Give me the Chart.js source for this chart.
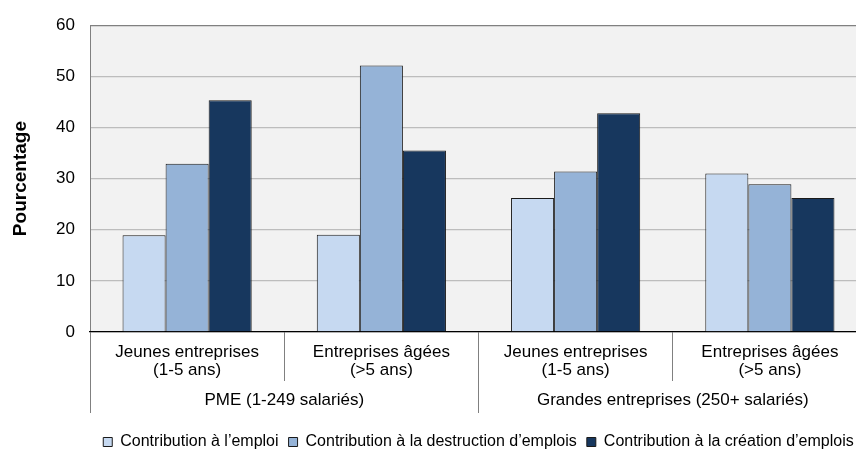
<!DOCTYPE html>
<html>
<head>
<meta charset="utf-8">
<script src="https://cdn.jsdelivr.net/npm/chart.js@4/dist/chart.umd.min.js"></script>
<style>
  html, body { margin: 0; padding: 0; background: #fff; overflow: hidden; }
  #wrap { width: 867px; height: 451px; }
</style>
</head>
<body>
<div id="wrap"><canvas id="myChart" width="867" height="451"></canvas></div>
<script>
// categories (two-line labels) and their groups
const categories = [
  ["Jeunes entreprises", "(1-5 ans)"],
  ["Entreprises âgées", "(>5 ans)"],
  ["Jeunes entreprises", "(1-5 ans)"],
  ["Entreprises âgées", "(>5 ans)"]
];
const groups = ["PME (1-249 salariés)", "Grandes entreprises (250+ salariés)"];

// series values (%)
const emploi = [18.9, 19.0, 26.2, 31.0];
const destruction = [32.9, 52.1, 31.4, 28.9];
const creation = [45.3, 35.5, 42.8, 26.2];

const seriesNames = [
  "Contribution à l’emploi",
  "Contribution à la destruction d’emplois",
  "Contribution à la création d’emplois"
];
const yTicks = [0, 10, 20, 30, 40, 50, 60];

const FONT = "'Liberation Sans', Arial, sans-serif";

// grey plot background
const plotBg = {
  id: "plotBg",
  beforeDraw(chart) {
    const { ctx, chartArea: a } = chart;
    ctx.save();
    ctx.fillStyle = "#ffffff";
    ctx.fillRect(0, 0, chart.width, chart.height);
    ctx.fillStyle = "#f2f2f2";
    ctx.fillRect(a.left, a.top, a.right - a.left, a.bottom - a.top);
    ctx.restore();
  }
};

const info = {
  labels: categories,
  datasets: [
    { label: seriesNames[0], data: emploi, backgroundColor: "#c6d9f1" },
    { label: seriesNames[1], data: destruction, backgroundColor: "#95b3d7" },
    { label: seriesNames[2], data: creation, backgroundColor: "#17375e" }
  ].map((d) => Object.assign(d, { borderColor: "#1a1a1a", borderWidth: 1, xAxisID: "x" }))
};

const options = {
  responsive: false,
  animation: false,
  devicePixelRatio: 1,
  categoryPercentage: 0.665,
  barPercentage: 1,
  layout: { padding: { top: 24, left: 0, right: 0, bottom: -9 } },
  scales: {
    y: {
      min: 0,
      max: 60,
      afterFit: (s) => { s.width = 90; },
      afterBuildTicks: (s) => { s.ticks = yTicks.map((v) => ({ value: v })); },
      ticks: { color: "#000", padding: 15, font: { family: FONT, size: 17 } },
      grid: {
        drawTicks: false,
        lineWidth: 1.3,
        color: (c) => (c.tick && c.tick.value === 60 ? "#808080" : "#bdbdbd")
      },
      border: { display: true, color: "#808080", width: 1 },
      title: {
        display: true,
        text: "Pourcentage",
        color: "#000",
        padding: { top: 9, bottom: 0 },
        font: { family: FONT, size: 19, weight: "bold" }
      }
    },
    x: {
      type: "category",
      position: "bottom",
      weight: 0,
      afterFit: (s) => { s.height = 49; },
      ticks: { color: "#000", padding: -38.4, maxRotation: 0, autoSkip: false, font: { family: FONT, size: 17, lineHeight: 1.1 } },
      grid: { offset: true, drawOnChartArea: false, drawTicks: true, tickLength: 49, tickColor: "#808080", tickWidth: 1 },
      border: { display: true, color: "#000", width: 1.3 }
    },
    x2: {
      type: "category",
      position: "bottom",
      weight: 1,
      labels: groups,
      offset: true,
      afterFit: (s) => { s.height = 43; },
      ticks: { color: "#000", padding: -22, maxRotation: 0, autoSkip: false, font: { family: FONT, size: 17, lineHeight: 1.1 } },
      grid: { offset: true, drawOnChartArea: false, drawTicks: true, tickLength: 32, tickColor: "#808080", tickWidth: 1 },
      border: { display: false }
    }
  },
  plugins: {
    legend: {
      position: "bottom",
      fullSize: false,
      labels: {
        color: "#000",
        usePointStyle: true,
        pointStyle: "rect",
        boxWidth: 9,
        boxHeight: 9,
        padding: 10,
        font: { family: FONT, size: 16 }
      }
    },
    tooltip: { enabled: false }
  }
};

const myChart = new Chart(document.getElementById("myChart"), {
  type: "bar",
  data: info,
  options,
  plugins: [plotBg]
});
</script>
</body>
</html>
